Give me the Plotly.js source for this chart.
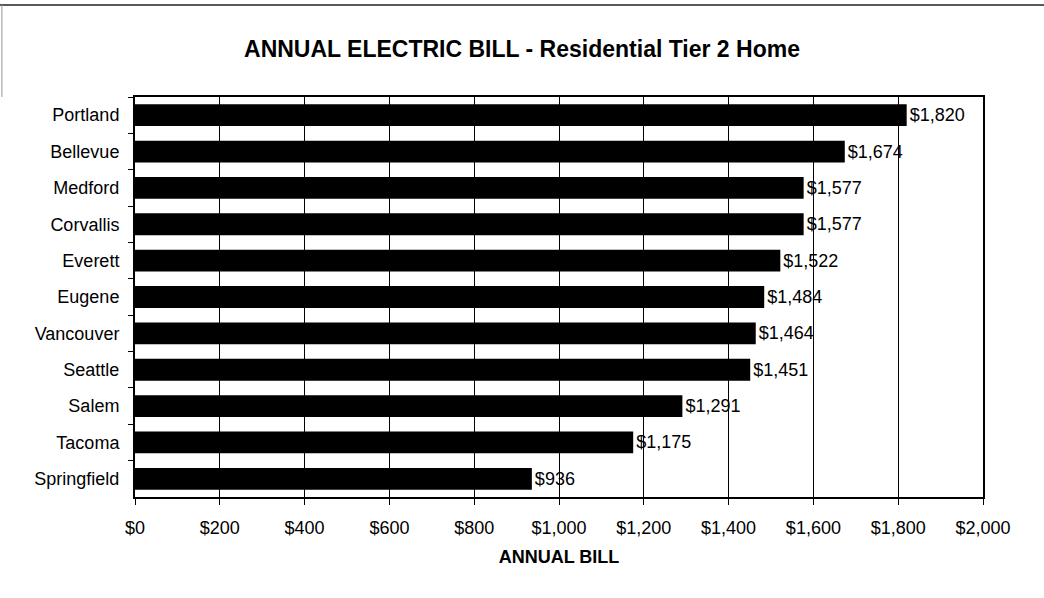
<!DOCTYPE html>
<html>
<head>
<meta charset="utf-8">
<script src="https://cdn.plot.ly/plotly-3.0.1.min.js"></script>
<style>html,body{margin:0;padding:0;background:#fff;}#chart{width:1044px;height:598px;}</style>
</head>
<body>
<div id="chart"></div>
<script>
const cities = ["Portland","Bellevue","Medford","Corvallis","Everett","Eugene","Vancouver","Seattle","Salem","Tacoma","Springfield"];
const bills = [1820,1674,1577,1577,1522,1484,1464,1451,1291,1175,936];
const xTickVals = [0,200,400,600,800,1000,1200,1400,1600,1800,2000];
const xTickText = ["$0","$200","$400","$600","$800","$1,000","$1,200","$1,400","$1,600","$1,800","$2,000"];

const trace = {
  type: "bar",
  orientation: "h",
  y: cities,
  x: bills,
  marker: {color: "#000000"},
  texttemplate: "$%{x:,}",
  textposition: "outside",
  cliponaxis: false,
  textfont: {family: "Liberation Sans, Arial, sans-serif", size: 18, color: "#000"},
  hoverinfo: "none"
};

const layout = {
  width: 1044, height: 598,
  margin: {l: 135, r: 61, t: 97, b: 101},
  paper_bgcolor: "#fff", plot_bgcolor: "#fff",
  bargap: 0.4,
  showlegend: false,
  font: {family: "Liberation Sans, Arial, sans-serif", color: "#000"},
  title: {text: "<b>ANNUAL ELECTRIC BILL - Residential Tier 2 Home</b>", x: 0.5, xanchor: "center", y: 0.918, yanchor: "middle", font: {size: 23, color: "#000"}},
  xaxis: {
    range: [0, 2000],
    tickvals: xTickVals, ticktext: xTickText,
    ticks: "outside", ticklen: 6, tickcolor: "#000", tickwidth: 1,
    showgrid: true, gridcolor: "#000", gridwidth: 1,
    showline: true, linecolor: "#000", linewidth: 2, mirror: true,
    zeroline: false,
    tickfont: {size: 18, color: "#000"},
    ticklabelstandoff: 7,
    title: {text: "<b>ANNUAL BILL</b>", font: {size: 18, color: "#000"}, standoff: 14},
    fixedrange: true
  },
  yaxis: {
    type: "category",
    autorange: "reversed",
    ticks: "outside", tickson: "boundaries", ticklen: 5, tickcolor: "#000",
    showline: true, linecolor: "#000", linewidth: 2, mirror: true,
    showgrid: false, zeroline: false,
    tickfont: {size: 18, color: "#000"},
    ticklabelstandoff: 10,
    fixedrange: true
  },
  shapes: [
    {type: "line", xref: "paper", yref: "paper", x0: -0.16, x1: 1.08, y0: 1.23, y1: 1.23, line: {color: "#222", width: 1.5}},
    {type: "line", xref: "paper", yref: "paper", x0: -0.157, x1: -0.157, y0: 1.23, y1: 1.0, line: {color: "#999", width: 1}}
  ]
};

Plotly.newPlot("chart", [trace], layout, {displayModeBar: false, staticPlot: true});
</script>
</body>
</html>
